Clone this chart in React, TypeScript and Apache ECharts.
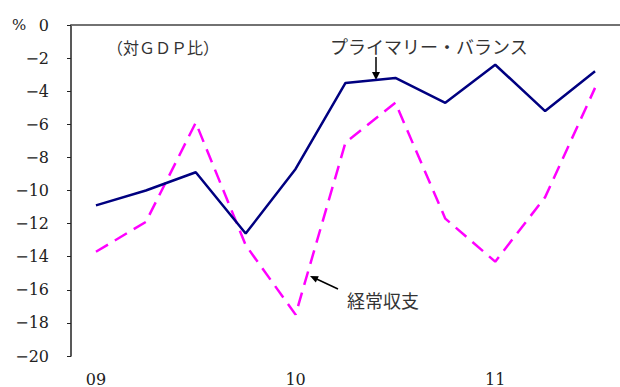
import React, { useEffect, useRef } from "react";
import * as echarts from "echarts";

// Quarterly, 2009 Q1 – 2011 Q3 (labels only on the first quarter of each year)
const quarters = ["09", "", "", "", "10", "", "", "", "11", "", ""];
// Primary balance, % of GDP
const primaryBalance = [-10.9, -10.0, -8.9, -12.6, -8.7, -3.5, -3.2, -4.7, -2.4, -5.2, -2.8];
// Current account balance, % of GDP
const currentAccount = [-13.7, -11.9, -5.9, -13.3, -17.5, -7.1, -4.7, -11.7, -14.3, -10.4, -3.8];

const serif = "DejaVu Serif";
const jp = "Noto Sans CJK JP";

export default function App() {
  const ref = useRef<HTMLDivElement>(null);

  useEffect(() => {
    if (!ref.current) return;
    const chart = echarts.init(ref.current, null, { renderer: "svg" });
    chart.setOption({
      animation: false,
      backgroundColor: "#fff",
      textStyle: { fontFamily: serif },
      grid: { left: 71, right: 0, top: 25, bottom: 31, containLabel: false },
      xAxis: [
        {
          type: "category",
          data: quarters,
          boundaryGap: true,
          axisLine: { lineStyle: { color: "#bbbbbb", width: 1.5 } },
          axisTick: { show: false },
          axisLabel: {
            interval: 0,
            margin: 15,
            color: "#222",
            fontFamily: serif,
            fontSize: 16,
          },
        },
        {
          type: "category",
          position: "top",
          data: quarters,
          axisLine: { lineStyle: { color: "#555555", width: 1.5 } },
          axisTick: { show: false },
          axisLabel: { show: false },
        },
      ],
      yAxis: {
        type: "value",
        min: -20,
        max: 0,
        interval: 2,
        axisLine: { show: true, lineStyle: { color: "#222", width: 1.5 } },
        axisTick: { show: true, inside: false, length: 4, lineStyle: { color: "#222" } },
        splitLine: { show: false },
        axisLabel: {
          margin: 22,
          color: "#222",
          fontFamily: serif,
          fontSize: 16,
          formatter: (v: number) => (v < 0 ? "\u2212" + Math.abs(v) : String(v)),
        },
      },
      series: [
        {
          name: "プライマリー・バランス",
          type: "line",
          data: primaryBalance,
          symbol: "none",
          lineStyle: { color: "#000080", width: 2.5 },
          z: 3,
        },
        {
          name: "経常収支",
          type: "line",
          data: currentAccount,
          symbol: "none",
          lineStyle: { color: "#ff00ff", width: 2.5, type: [14, 8] },
          z: 2,
        },
      ],
      graphic: [
        {
          type: "text",
          x: 12,
          y: 25,
          style: {
            text: "%",
            fontFamily: serif,
            fontSize: 15,
            fill: "#222",
            verticalAlign: "middle",
          },
        },
        {
          type: "text",
          x: 107,
          y: 47,
          style: {
            text: "（対ＧＤＰ比）",
            fontFamily: jp,
            fontSize: 16,
            fill: "#333",
            verticalAlign: "middle",
          },
        },
        {
          type: "text",
          x: 330,
          y: 46,
          style: {
            text: "プライマリー・バランス",
            fontFamily: jp,
            fontSize: 18,
            fill: "#333",
            verticalAlign: "middle",
          },
        },
        {
          type: "line",
          shape: { x1: 376, y1: 57, x2: 376, y2: 75 },
          style: { stroke: "#000", lineWidth: 1.5 },
        },
        {
          type: "polygon",
          shape: { points: [[372, 72], [380, 72], [376, 80]] },
          style: { fill: "#000" },
        },
        {
          type: "text",
          x: 347,
          y: 300,
          style: {
            text: "経常収支",
            fontFamily: jp,
            fontSize: 18,
            fill: "#333",
            verticalAlign: "middle",
          },
        },
        {
          type: "line",
          shape: { x1: 338, y1: 289, x2: 315, y2: 278.3 },
          style: { stroke: "#000", lineWidth: 1.5 },
        },
        {
          type: "polygon",
          shape: { points: [[318.8, 276.2], [315.8, 282.6], [310, 276]] },
          style: { fill: "#000" },
        },
      ],
    });
    return () => chart.dispose();
  }, []);

  return (
    <div
      ref={ref}
      style={{ position: "fixed", left: 0, top: 0, width: 620, height: 387 }}
    />
  );
}
